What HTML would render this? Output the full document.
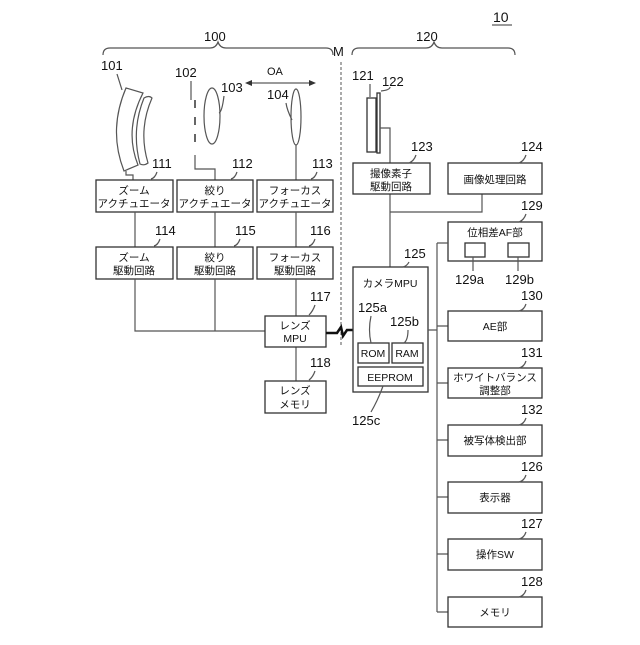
<!DOCTYPE html><html><head><meta charset="utf-8"><style>
body{margin:0;background:#fff}
svg text{font-family:"Liberation Sans","Noto Sans CJK JP",sans-serif;fill:#111}
.b{fill:#fff;stroke:#333;stroke-width:1.3}
.l{fill:none;stroke:#555;stroke-width:1.2}
.n{font-size:13px}
.t{font-size:10.5px;text-anchor:middle}
</style></head><body>
<svg width="640" height="640" viewBox="0 0 640 640" xmlns="http://www.w3.org/2000/svg">
<text x="493" y="22" class="n" style="font-size:14px">10</text><line x1="492" y1="25" x2="512" y2="25" stroke="#333"/>
<path class="l" d="M103 55 Q103 48 110 48 L210 48 Q216 48 218 42 Q220 48 226 48 L326 48 Q333 48 333 55"/>
<text x="204" y="41" class="n">100</text>
<path class="l" d="M352 55 Q352 48 359 48 L426 48 Q432 48 434 42 Q436 48 442 48 L508 48 Q515 48 515 55"/>
<text x="416" y="41" class="n">120</text>
<text x="333" y="56" class="n">M</text>
<line x1="341" y1="62" x2="341" y2="346" stroke="#555" stroke-dasharray="3,2"/>
<line x1="247" y1="83" x2="314" y2="83" stroke="#333"/>
<path d="M245 83 l7 -3 v6z M316 83 l-7 -3 v6z" fill="#333"/>
<text x="267" y="75" style="font-size:11px">OA</text>
<path class="l" d="M126 88 L143 93 Q124 130 138 165 L124 171 Q108 130 126 88Z"/>
<path class="l" d="M144 98 Q149 95 152 98 Q138 130 148 163 Q144 166 140 164 Q131 130 144 98Z"/>
<path class="l" d="M126 171 V175 H133 V180"/>
<text x="101" y="70" class="n">101</text><path class="l" d="M117 74 L122 90"/>
<path d="M195 100 V148" stroke="#333" stroke-width="1.5" stroke-dasharray="8,9" fill="none"/>
<path class="l" d="M195 155 V169 H215 V180"/>
<text x="175" y="77" class="n">102</text><path class="l" d="M191 81 V100"/>
<ellipse cx="212" cy="116" rx="8" ry="28" class="l"/>
<text x="221" y="92" class="n">103</text><path class="l" d="M224 96 Q222 112 219 113"/>
<ellipse cx="296" cy="117" rx="5" ry="28" class="l"/>
<text x="267" y="99" class="n">104</text><path class="l" d="M286 103 Q287 110 292 120"/>
<line x1="296" y1="145" x2="296" y2="180" class="l"/>
<rect x="96" y="180" width="77" height="32" class="b"/><text x="134" y="194" class="t">ズーム</text><text x="134" y="207" class="t">アクチュエータ</text>
<rect x="177" y="180" width="76" height="32" class="b"/><text x="215" y="194" class="t">絞り</text><text x="215" y="207" class="t">アクチュエータ</text>
<rect x="257" y="180" width="76" height="32" class="b"/><text x="295" y="194" class="t">フォーカス</text><text x="295" y="207" class="t">アクチュエータ</text>
<text x="152" y="168" class="n">111</text><text x="232" y="168" class="n">112</text><text x="312" y="168" class="n">113</text>
<path class="l" d="M157 172 q-2 6 -6 7 M237 172 q-2 6 -6 7 M317 172 q-2 6 -6 7"/>
<path class="l" d="M135 212 V247 M215 212 V247 M296 212 V247"/>
<rect x="96" y="247" width="77" height="32" class="b"/><text x="134" y="261" class="t">ズーム</text><text x="134" y="274" class="t">駆動回路</text>
<rect x="177" y="247" width="76" height="32" class="b"/><text x="215" y="261" class="t">絞り</text><text x="215" y="274" class="t">駆動回路</text>
<rect x="257" y="247" width="76" height="32" class="b"/><text x="295" y="261" class="t">フォーカス</text><text x="295" y="274" class="t">駆動回路</text>
<text x="155" y="235" class="n">114</text><text x="235" y="235" class="n">115</text><text x="310" y="235" class="n">116</text>
<path class="l" d="M160 239 q-2 6 -6 7 M240 239 q-2 6 -6 7 M315 239 q-2 6 -6 7"/>
<path class="l" d="M135 279 V331 H265 M215 279 V331 M296 279 V316 M296 347 V381"/>
<rect x="265" y="316" width="61" height="31" class="b"/><text x="295" y="329" class="t">レンズ</text><text x="295" y="342" class="t">MPU</text>
<text x="310" y="301" class="n">117</text><path class="l" d="M315 305 q-2 6 -6 10"/>
<rect x="265" y="381" width="61" height="32" class="b"/><text x="295" y="394" class="t">レンズ</text><text x="295" y="408" class="t">メモリ</text>
<text x="310" y="367" class="n">118</text><path class="l" d="M315 371 q-2 6 -6 9"/>
<path d="M326 333 H337 L341 327 L343 336 L347 330 H353" stroke="#111" stroke-width="2.5" fill="none"/>
<rect x="367" y="98" width="9" height="54" class="b"/><rect x="377" y="93" width="3" height="60" class="b"/>
<text x="352" y="80" class="n">121</text><text x="382" y="86" class="n">122</text>
<path class="l" d="M370 84 V97 M381 91 Q390 90 390 87"/>
<path class="l" d="M380 128 H390 V267 M390 212 H482 V194"/>
<rect x="353" y="163" width="77" height="31" class="b"/><text x="391" y="177" class="t">撮像素子</text><text x="391" y="190" class="t">駆動回路</text>
<text x="411" y="151" class="n">123</text><path class="l" d="M416 155 q-2 6 -7 8"/>
<rect x="448" y="163" width="94" height="31" class="b"/><text x="495" y="183" class="t">画像処理回路</text>
<text x="521" y="151" class="n">124</text><path class="l" d="M526 155 q-2 6 -7 8"/>
<rect x="448" y="222" width="94" height="39" class="b"/><text x="495" y="236" class="t">位相差AF部</text>
<rect x="465" y="243" width="20" height="14" class="b"/><rect x="508" y="243" width="21" height="14" class="b"/>
<text x="521" y="210" class="n">129</text><path class="l" d="M526 214 q-2 6 -7 8"/>
<text x="455" y="284" class="n">129a</text><text x="505" y="284" class="n">129b</text>
<path class="l" d="M473 257 V271 M518 257 V271"/>
<rect x="353" y="267" width="75" height="125" class="b"/><text x="390" y="287" class="t">カメラMPU</text>
<text x="404" y="258" class="n">125</text><path class="l" d="M409 262 q-2 4 -6 5"/>
<rect x="358" y="343" width="31" height="20" class="b"/><text x="373" y="357" class="t">ROM</text>
<rect x="392" y="343" width="31" height="20" class="b"/><text x="407" y="357" class="t">RAM</text>
<rect x="358" y="367" width="65" height="19" class="b"/><text x="390" y="381" class="t">EEPROM</text>
<text x="358" y="312" class="n">125a</text><text x="390" y="326" class="n">125b</text>
<path class="l" d="M371 316 Q368 330 371 343 M408 330 q0 10 -4 13"/>
<text x="352" y="425" class="n">125c</text><path class="l" d="M383 386 Q378 400 371 412"/>
<path class="l" d="M428 330 H437 M437 243 V612 M437 243 H448"/>
<path class="l" d="M437 326 H448 M437 383 H448 M437 440 H448 M437 497 H448 M437 554 H448 M437 612 H448"/>
<rect x="448" y="311" width="94" height="30" class="b"/><text x="495" y="330" class="t">AE部</text>
<rect x="448" y="368" width="94" height="30" class="b"/><text x="495" y="381" class="t">ホワイトバランス</text><text x="495" y="394" class="t">調整部</text>
<rect x="448" y="425" width="94" height="31" class="b"/><text x="495" y="444" class="t">被写体検出部</text>
<rect x="448" y="482" width="94" height="31" class="b"/><text x="495" y="501" class="t">表示器</text>
<rect x="448" y="539" width="94" height="31" class="b"/><text x="495" y="558" class="t">操作SW</text>
<rect x="448" y="597" width="94" height="30" class="b"/><text x="495" y="616" class="t">メモリ</text>
<g class="n"><text x="521" y="300">130</text><text x="521" y="357">131</text><text x="521" y="414">132</text><text x="521" y="471">126</text><text x="521" y="528">127</text><text x="521" y="586">128</text></g>
<path class="l" d="M526 304 q-2 6 -7 7 M526 361 q-2 6 -7 7 M526 418 q-2 6 -7 7 M526 475 q-2 6 -7 7 M526 532 q-2 6 -7 7 M526 590 q-2 6 -7 7"/>
</svg></body></html>
